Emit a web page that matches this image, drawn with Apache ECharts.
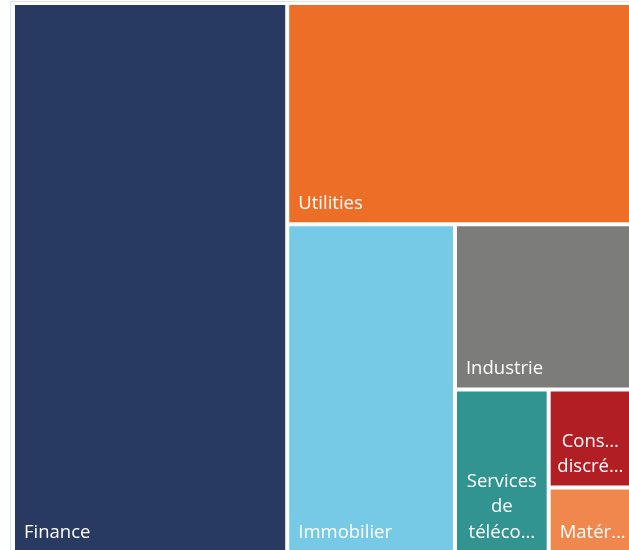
<!DOCTYPE html>
<html>
<head>
<meta charset="utf-8">
<script src="https://cdn.jsdelivr.net/npm/echarts@6/dist/echarts.min.js"></script>
<style>
  html, body { margin: 0; padding: 0; background: #fff; }
  #chart { width: 629px; height: 550px; }
</style>
</head>
<body>
<div id="chart"></div>
<script>
// secteurs et poids (%)
var sectors = ['Finance', 'Utilities', 'Immobilier', 'Industrie',
  'Services de télécommunications', 'Consommation discrétionnaire', 'Matériaux']
var weights = [44.3, 22.4, 16.2, 8.6, 4.5, 2.4, 1.6]
// libellés tronqués tels qu'affichés
var shortLabels = ['Finance', 'Utilities', 'Immobilier', 'Industrie',
  'Services\nde\ntéléco…', 'Cons…\ndiscré…', 'Matér…']
var colors = ['#283a62', '#ec6e27', '#77cae6', '#7c7c7a', '#329490', '#b11f24', '#f0884e']

var chart = echarts.init(document.getElementById('chart'))

var data = sectors.map(function (name, i) {
  var item = {
    name: name,
    value: weights[i],
    short: shortLabels[i],
    itemStyle: { color: colors[i] }
  }
  // libellés sur plusieurs lignes : centrés
  if (shortLabels[i].indexOf('\n') >= 0) {
    item.label = { position: 'insideBottom' }
  }
  return item
})

chart.setOption({
  animation: false,
  // cadre gris clair autour du treemap
  graphic: [{
    type: 'rect',
    silent: true,
    shape: { x: 10.5, y: 1.5, width: 700, height: 700 },
    style: { fill: null, stroke: '#e4e4e4', lineWidth: 1 }
  }],
  series: [{
    type: 'treemap',
    left: 15,
    top: 5,
    width: 615,
    height: 546,
    squareRatio: 1,
    roam: false,
    nodeClick: false,
    breadcrumb: { show: false },
    itemStyle: { gapWidth: 4, borderWidth: 0 },
    label: {
      show: true,
      position: 'insideBottomLeft',
      padding: [0, 9, 6, 9],
      overflow: 'none',
      color: '#fff',
      fontFamily: 'Open Sans',
      fontSize: 18.5,
      lineHeight: 25.5,
      formatter: function (p) {
        return p.data.short
      }
    },
    data: data
  }]
})
</script>
</body>
</html>
